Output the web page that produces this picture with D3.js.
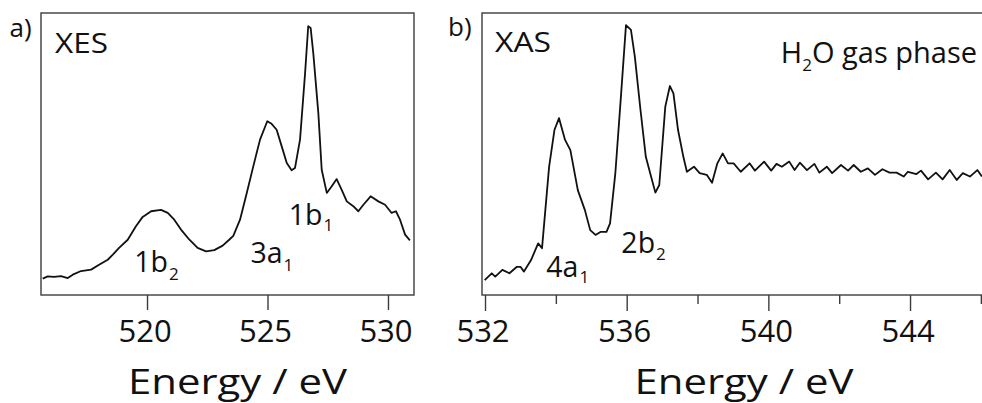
<!DOCTYPE html>
<html>
<head>
<meta charset="utf-8">
<script src="https://cdn.jsdelivr.net/npm/d3@7"></script>
<style>
  body { margin: 0; background: #fff; }
  text { font-family: "Open Sans", "Noto Sans", sans-serif; fill: #111; }
</style>
</head>
<body>
<div id="chart-area"></div>
<script>
// XES spectrum (panel a)
var xesEnergy = [515.67, 515.88, 516.14, 516.43, 516.71, 516.92, 517.26, 517.68, 518.01, 518.37,
    518.58, 518.84, 519.20, 519.54, 519.82, 520.17, 520.58, 520.86, 521.13, 521.41,
    521.76, 522.10, 522.45, 522.79, 523.14, 523.41, 523.58, 523.86, 524.14, 524.41,
    524.69, 524.99, 525.17, 525.38, 525.59, 525.80, 526.00, 526.14, 526.35, 526.56,
    526.69, 526.79, 526.90, 527.11, 527.25, 527.46, 527.66, 527.87, 528.08, 528.29,
    528.56, 528.77, 528.98, 529.28, 529.60, 529.88, 530.15, 530.33, 530.50, 530.71, 530.91];
var xesIntensity = [5.8, 6.6, 6.4, 6.7, 6.0, 7.2, 8.5, 9.0, 10.7, 12.5,
    14.3, 16.7, 19.6, 24.4, 27.7, 29.7, 30.2, 29.1, 26.7, 23.2,
    19.6, 16.7, 15.5, 15.9, 17.5, 19.6, 21.0, 26.7, 36.2, 45.6,
    55.1, 61.6, 60.7, 58.6, 52.7, 46.8, 44.2, 45.0, 55.1, 78.7,
    95.3, 94.7, 85.8, 64.5, 44.4, 36.2, 38.5, 41.1, 37.3, 33.2,
    31.5, 29.7, 32.0, 35.0, 33.2, 32.0, 29.1, 29.7, 26.7, 21.4, 19.4];

// XAS spectrum (panel b)
var xasEnergy = [531.99, 532.19, 532.29, 532.49, 532.69, 532.90, 533.00, 533.10, 533.30, 533.50,
    533.61, 533.81, 533.96, 534.09, 534.26, 534.41, 534.62, 534.82, 534.97, 535.12,
    535.27, 535.43, 535.53, 535.68, 535.83, 535.98, 536.12, 536.23, 536.39, 536.54,
    536.69, 536.81, 536.92, 537.09, 537.22, 537.32, 537.45, 537.60, 537.70, 537.90,
    538.06, 538.26, 538.41, 538.56, 538.71, 538.86, 539.02, 539.22, 539.47, 539.62,
    539.88, 540.08, 540.23, 540.38, 540.59, 540.74, 540.89, 541.09, 541.30, 541.44,
    541.65, 541.80, 542.05, 542.25, 542.41, 542.61, 542.81, 543.01, 543.22, 543.42,
    543.62, 543.82, 543.94, 544.18, 544.31, 544.51, 544.73, 544.92, 545.12, 545.32,
    545.49, 545.69, 545.90, 546.03];
var xasIntensity = [5.3, 7.7, 6.5, 8.9, 7.7, 10.0, 10.0, 8.3, 12.4, 18.3,
    16.6, 45.5, 58.5, 62.7, 55.0, 51.4, 37.2, 30.1, 23.0, 21.3,
    22.4, 22.4, 25.4, 43.2, 69.1, 95.7, 94.0, 84.5, 65.6, 49.0,
    41.9, 36.3, 39.0, 66.8, 74.1, 71.5, 58.5, 49.0, 43.7, 45.5,
    43.2, 42.6, 39.8, 46.7, 50.2, 46.7, 46.7, 43.7, 46.7, 44.1,
    47.3, 44.1, 46.5, 45.5, 47.3, 44.3, 46.9, 44.3, 46.5, 43.4,
    45.5, 43.2, 46.1, 44.1, 46.1, 43.7, 44.9, 42.6, 44.6, 43.4,
    43.4, 42.0, 43.7, 42.9, 44.1, 41.0, 43.4, 41.0, 44.3, 40.8,
    43.2, 42.0, 44.3, 42.0];

var xesTicks = [520, 525, 530];
var xasMajorTicks = [532, 536, 540, 544];
var xasMinorTicks = [534, 538, 542, 546];

var width = 982, height = 403;
var plotTop = 13, plotBottom = 295;

var svg = d3.select("#chart-area").append("svg")
    .attr("width", width)
    .attr("height", height);

var y = d3.scaleLinear().domain([0, 100]).range([plotBottom, plotTop]);

var xA = d3.scaleLinear().domain([515.6, 531.08]).range([41, 414]);
var xB = d3.scaleLinear().domain([531.915, 546.06]).range([482, 983]);

function drawPanel(x, energy, intensity) {
    var r = x.range();
    // frame
    svg.append("rect")
        .attr("x", r[0]).attr("y", plotTop)
        .attr("width", r[1] - r[0]).attr("height", plotBottom - plotTop)
        .style("fill", "none")
        .style("stroke", "#3c3c3c")
        .style("stroke-width", 1.4);

    var pts = energy.map(function(e, i) { return [x(e), y(intensity[i])]; });
    svg.append("path")
        .attr("d", d3.line()(pts))
        .style("fill", "none")
        .style("stroke", "#111")
        .style("stroke-width", 1.8)
        .style("stroke-linejoin", "round");
}

function drawAxis(x, ticks, size, labels) {
    var g = svg.append("g")
        .attr("transform", "translate(0," + plotBottom + ")")
        .call(d3.axisBottom(x).tickValues(ticks).tickSize(size).tickFormat(labels ? d3.format("d") : ""));
    g.select(".domain").remove();
    g.selectAll("line").style("stroke", "#3c3c3c").style("stroke-width", 1.4);
    g.selectAll("text")
        .attr("y", 47).attr("dy", 0).attr("dx", -2.5)
        .style("font-size", "31px")
        .style("font-family", "'Open Sans', sans-serif")
        .style("fill", "#111");
}

drawPanel(xA, xesEnergy, xesIntensity);
drawPanel(xB, xasEnergy, xasIntensity);

drawAxis(xA, xesTicks, 15, true);
drawAxis(xB, xasMajorTicks, 16, true);
drawAxis(xB, xasMinorTicks, 9, false);

// axis titles
[[237.5, "Energy / eV"], [744, "Energy / eV"]].forEach(function(t) {
    svg.append("text")
        .attr("x", t[0] - 109.5).attr("y", 393.5)
        .attr("textLength", 219).attr("lengthAdjust", "spacingAndGlyphs")
        .style("font-size", "34px")
        .text(t[1]);
});

// panel letters and titles
svg.append("text").attr("x", 9.5).attr("y", 36.5).style("font-size", "26px").text("a)");
svg.append("text").attr("x", 448).attr("y", 36).style("font-size", "26px").text("b)");
svg.append("text").attr("x", 55).attr("y", 53)
    .attr("textLength", 53).attr("lengthAdjust", "spacingAndGlyphs")
    .style("font-size", "28px").text("XES");
svg.append("text").attr("x", 495).attr("y", 51.5)
    .attr("textLength", 56).attr("lengthAdjust", "spacingAndGlyphs")
    .style("font-size", "28px").text("XAS");

var h2o = svg.append("text").attr("x", 977).attr("y", 63.3)
    .attr("text-anchor", "end").style("font-size", "29px");
h2o.append("tspan").text("H");
h2o.append("tspan").attr("dy", 8).style("font-size", "17px").text("2");
h2o.append("tspan").attr("dy", -8).text("O gas phase");

// peak labels: [x scale, energy, intensity, main, subscript, sub shift]
var peaks = [
    [xA, 519.47, 8.0, "1b", "2", 7.4],
    [xA, 524.29, 11.3, "3a", "1", 8.3],
    [xA, 525.88, 24.9, "1b", "1", 6.6],
    [xB, 533.73, 6.4, "4a", "1", 6.5],
    [xB, 535.85, 14.8, "2b", "2", 6.7]
];
peaks.forEach(function(p) {
    var t = svg.append("text")
        .attr("x", p[0](p[1])).attr("y", y(p[2]))
        .style("font-size", "28.5px");
    t.append("tspan").text(p[3]);
    t.append("tspan").attr("dy", p[5]).attr("dx", 1).style("font-size", "17px").text(p[4]);
});
</script>
</body>
</html>
